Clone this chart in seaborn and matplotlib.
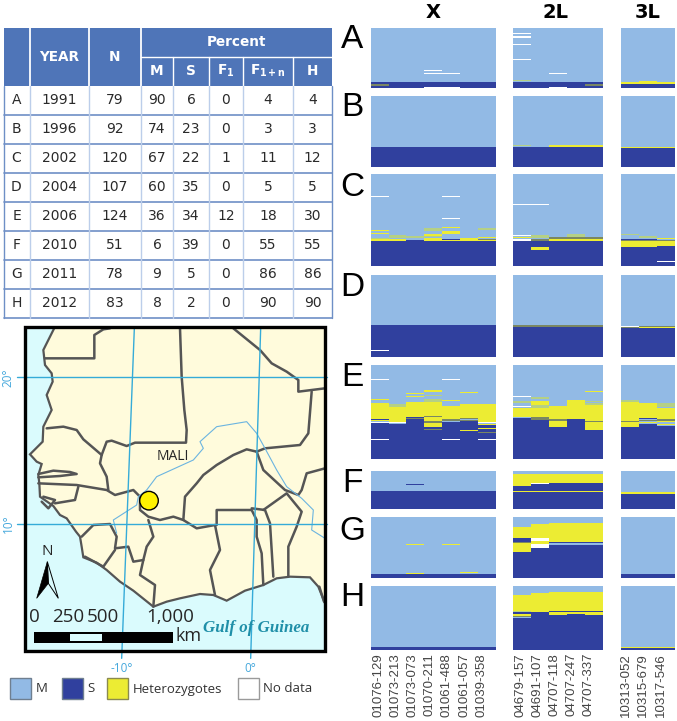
"""Hybrid zone figure: sample table, map of Mali site, genotype panels per year."""

import matplotlib
matplotlib.use("Agg")
import matplotlib.pyplot as plt
import numpy as np
import seaborn as sns
from matplotlib.colors import ListedColormap
from matplotlib.patches import Circle, Polygon, Rectangle

# ── Table ─────────────────────────────────────────────────────────────────────
ROW_NAMES = ["A", "B", "C", "D", "E", "F", "G", "H"]
YEARS = [1991, 1996, 2002, 2004, 2006, 2010, 2011, 2012]
N_SAMPLES = [79, 92, 120, 107, 124, 51, 78, 83]
PCT_M = [90, 74, 67, 60, 36, 6, 9, 8]
PCT_S = [6, 23, 22, 35, 34, 39, 5, 2]
PCT_F1 = [0, 0, 1, 0, 12, 0, 0, 0]
PCT_F1N = [4, 3, 11, 5, 18, 55, 86, 90]
PCT_H = [4, 3, 12, 5, 30, 55, 86, 90]

# ── Marker names ──────────────────────────────────────────────────────────────
LABELS_X = ["01076-129", "01073-213", "01073-073", "01070-211", "01061-488", "01061-057", "01039-358"]
LABELS_2L = ["04679-157", "04691-107", "04707-118", "04707-247", "04707-337"]
LABELS_3L = ["10313-052", "10315-679", "10317-546"]

# ── Genotype panels: first S row per column + (column, row, n_rows, code) runs ─
# M, S, H = homozygotes/heterozygote, N = no data, a/b/c/e = thin faded rows
A_X_S = [71] * 7
A_X_RUNS = [(0, 10, 1, "N"), (4, 10, 1, "N"), (3, 55, 1, "N"), (3, 59, 1, "N"), (4, 59, 1, "N"),
            (0, 74, 2, "c"), (3, 77, 2, "N"), (4, 77, 2, "N")]
A_2L_S = [71] * 5
A_2L_RUNS = [(0, 7, 1, "N"), (0, 11, 2, "N"), (0, 21, 1, "N"), (0, 31, 1, "a"), (0, 41, 1, "N"),
             (2, 59, 1, "N"), (0, 68, 1, "b"), (0, 69, 1, "H"), (4, 74, 2, "c"), (2, 77, 2, "N")]
A_3L_S = [74] * 3
A_3L_RUNS = [(0, 71, 2, "H"), (1, 70, 3, "H"), (2, 71, 2, "H"), (0, 73, 1, "c"), (1, 73, 1, "c"), (2, 73, 1, "c")]

B_X_S = [66] * 7
B_X_RUNS = [(4, 16, 1, "N")]
B_2L_S = [66] * 5
B_2L_RUNS = [(0, 63, 2, "b"), (2, 64, 2, "H"), (3, 64, 2, "H"), (4, 64, 2, "H")]
B_3L_S = [67] * 3
B_3L_RUNS = [(1, 16, 1, "N"), (0, 66, 1, "H"), (1, 66, 1, "H"), (2, 66, 1, "H")]

C_X_S = [87, 87, 86, 88, 88, 88, 88]
C_X_RUNS = [(0, 29, 1, "N"), (0, 73, 1, "H"), (0, 77, 1, "H"), (0, 84, 1, "b"), (0, 85, 2, "H"),
            (1, 80, 3, "b"), (1, 85, 2, "H"), (2, 81, 3, "b"),
            (3, 70, 4, "b"), (3, 79, 2, "H"), (3, 81, 1, "b"), (3, 84, 4, "H"),
            (4, 20, 1, "N"), (4, 24, 1, "N"), (4, 29, 1, "N"), (4, 45, 1, "N"), (4, 58, 1, "N"), (4, 62, 1, "N"),
            (4, 69, 1, "H"), (4, 75, 3, "H"), (4, 85, 1, "S"), (4, 86, 2, "H"),
            (5, 84, 4, "H"), (6, 71, 2, "b"), (6, 82, 1, "H"), (6, 85, 1, "c"), (6, 86, 2, "H")]
C_2L_S = [88] * 5
C_2L_RUNS = [(0, 39, 1, "N"), (1, 39, 1, "N"), (0, 80, 1, "N"), (0, 82, 1, "H"), (0, 85, 3, "N"),
             (1, 80, 4, "b"), (1, 85, 3, "c"), (1, 95, 4, "H"), (2, 82, 3, "c"), (2, 85, 3, "H"),
             (3, 78, 4, "b"), (3, 82, 3, "c"), (3, 85, 3, "H"), (4, 82, 3, "c"), (4, 85, 3, "H")]
C_3L_S = [96, 96, 94]
C_3L_RUNS = [(0, 78, 2, "b"), (0, 85, 1, "S"), (0, 86, 1, "c"), (0, 87, 9, "H"),
             (1, 81, 2, "b"), (1, 85, 1, "S"), (1, 86, 1, "c"), (1, 87, 9, "H"),
             (2, 78, 1, "H"), (2, 84, 1, "H"), (2, 86, 2, "c"), (2, 88, 6, "H"), (2, 114, 1, "N")]

D_X_S = [66] * 7
D_X_RUNS = [(0, 98, 1, "N")]
D_2L_S = [68] * 5
D_2L_RUNS = [(0, 66, 2, "c"), (1, 66, 2, "c"), (2, 65, 1, "H"), (3, 65, 1, "H"), (4, 65, 1, "H"),
             (2, 66, 2, "c"), (3, 66, 2, "c"), (4, 66, 2, "c")]
D_3L_S = [70] * 3
D_3L_RUNS = [(0, 67, 1, "N"), (0, 68, 2, "c"), (1, 67, 1, "c"), (1, 68, 2, "H"), (2, 67, 1, "c"), (2, 68, 2, "H")]

E_X_S = [76, 77, 71, 86, 75, 74, 77]
E_X_RUNS = [(0, 19, 1, "N"), (0, 45, 1, "H"), (0, 50, 21, "H"), (0, 71, 1, "S"), (0, 72, 1, "H"), (0, 73, 1, "S"),
            (0, 75, 1, "N"), (0, 97, 1, "N"),
            (1, 51, 4, "b"), (1, 55, 20, "H"), (1, 75, 1, "N"), (1, 89, 1, "H"),
            (2, 37, 1, "H"), (2, 41, 1, "H"), (2, 49, 20, "H"), (2, 69, 1, "S"), (2, 70, 1, "c"),
            (3, 33, 3, "H"), (3, 39, 2, "b"), (3, 45, 3, "b"), (3, 48, 19, "H"), (3, 67, 2, "c"), (3, 69, 5, "H"),
            (3, 74, 2, "c"), (3, 76, 6, "H"), (3, 82, 2, "S"), (3, 84, 2, "c"),
            (4, 19, 1, "N"), (4, 39, 1, "H"), (4, 46, 1, "H"), (4, 54, 17, "H"), (4, 71, 2, "c"), (4, 97, 1, "N"),
            (5, 36, 1, "H"), (5, 43, 1, "H"), (5, 51, 19, "H"), (5, 70, 1, "c"), (5, 72, 1, "c"), (5, 86, 1, "H"),
            (6, 51, 24, "H"), (6, 75, 1, "N"), (6, 78, 1, "H"), (6, 83, 1, "H"), (6, 88, 2, "c"), (6, 97, 1, "N")]
E_2L_S = [70, 72, 82, 71, 85]
E_2L_RUNS = [(0, 41, 1, "N"), (0, 43, 1, "S"), (0, 47, 3, "b"), (0, 52, 1, "N"), (0, 54, 1, "N"), (0, 56, 12, "H"),
             (0, 68, 1, "S"), (0, 73, 1, "N"),
             (1, 42, 3, "b"), (1, 47, 6, "H"), (1, 53, 4, "b"), (1, 57, 12, "H"), (1, 69, 3, "c"),
             (2, 48, 1, "H"), (2, 52, 1, "H"), (2, 54, 17, "H"), (2, 71, 2, "c"), (2, 73, 9, "H"),
             (3, 43, 1, "H"), (3, 46, 25, "H"),
             (4, 34, 1, "H"), (4, 47, 2, "b"), (4, 50, 2, "b"), (4, 53, 20, "H"), (4, 73, 2, "c"), (4, 75, 9, "H"),
             (4, 84, 1, "H")]
E_3L_S = [81, 78, 80]
E_3L_RUNS = [(0, 46, 2, "b"), (0, 49, 24, "H"), (0, 73, 2, "c"), (0, 75, 6, "H"),
             (1, 50, 20, "H"), (1, 70, 1, "S"), (1, 72, 2, "c"), (1, 75, 1, "H"),
             (2, 50, 2, "b"), (2, 53, 2, "b"), (2, 57, 1, "H"), (2, 58, 13, "H"), (2, 71, 2, "c"), (2, 74, 1, "H"),
             (2, 78, 1, "H")]

F_X_S = [27] * 7
F_X_RUNS = [(2, 18, 1, "S")]
F_2L_S = [20, 18, 17, 17, 17]
F_2L_RUNS = [(0, 5, 15, "H"), (1, 5, 12, "H"), (1, 17, 1, "N"), (2, 5, 12, "H"), (3, 5, 12, "H"), (4, 5, 12, "H"),
             (0, 27, 1, "H"), (1, 27, 1, "H"), (2, 27, 1, "H"), (3, 27, 1, "H"), (4, 27, 1, "H")]
F_3L_S = [31] * 3
F_3L_RUNS = [(0, 28, 1, "b"), (0, 29, 2, "H"), (1, 28, 1, "b"), (1, 29, 2, "H"), (2, 28, 1, "b"), (2, 29, 2, "H")]

G_X_S = [73] * 7
G_X_RUNS = [(2, 35, 1, "H"), (4, 35, 1, "H"), (2, 72, 1, "H"), (5, 71, 1, "H")]
G_2L_S = [45, 40, 36, 36, 36]
G_2L_RUNS = [(0, 12, 15, "H"), (0, 27, 5, "S"), (0, 32, 1, "c"), (0, 33, 12, "H"),
             (1, 9, 18, "H"), (1, 27, 3, "N"), (1, 30, 4, "H"), (1, 34, 1, "c"), (1, 35, 5, "N"),
             (2, 7, 25, "H"), (2, 32, 1, "S"), (2, 34, 1, "H"),
             (3, 7, 25, "H"), (3, 32, 1, "S"), (3, 34, 1, "H"),
             (4, 7, 25, "H"), (4, 32, 1, "S"), (4, 34, 1, "H")]
G_3L_S = [73] * 3
G_3L_RUNS = []

H_X_S = [80] * 7
H_X_RUNS = []
H_2L_S = [41, 34, 37, 36, 37]
H_2L_RUNS = [(0, 11, 21, "H"), (0, 32, 1, "b"), (0, 33, 3, "S"), (0, 36, 3, "H"), (0, 39, 1, "c"),
             (1, 9, 25, "H"),
             (2, 8, 24, "H"), (2, 32, 1, "S"), (2, 33, 1, "c"), (2, 34, 3, "H"),
             (3, 7, 25, "H"), (3, 32, 2, "S"), (3, 34, 2, "H"),
             (4, 7, 25, "H"), (4, 32, 1, "S"), (4, 33, 4, "H")]
H_3L_S = [81] * 3
H_3L_RUNS = [(0, 80, 1, "H"), (1, 80, 1, "H"), (2, 80, 1, "H")]

# ── Map outlines (traced, in crop units: 3 units = 1 px, origin at 0,320) ──────
COAST = [(170, 10), (150, 50), (130, 90), (135, 135), (155, 160), (158, 185), (140, 225), (155, 270), (140, 300),
         (130, 320), (128, 365), (90, 403), (110, 425), (125, 432), (115, 465), (118, 490), (120, 530), (160, 558),
         (180, 585), (200, 595), (228, 635), (240, 650), (245, 680), (250, 712), (290, 728), (320, 750), (360, 785),
         (400, 812), (460, 860), (500, 845), (540, 835), (600, 822), (640, 825), (680, 842), (735, 812), (790, 795),
         (830, 775), (870, 770), (930, 772), (955, 800), (975, 850), (1000, 850), (1000, 10)]
BORDERS = [
    [(135, 115), (283, 115), (283, 45), (310, 28), (330, 25)],
    [(540, 25), (545, 170), (553, 270), (560, 330), (558, 368), (480, 368), (405, 368), (380, 378), (335, 362),
     (320, 365), (305, 405)],
    [(140, 325), (190, 320), (230, 330), (250, 358), (270, 375), (305, 405), (300, 430), (320, 470), (325, 510)],
    [(700, 25), (780, 90), (815, 130), (860, 155), (895, 180), (895, 215), (975, 205)],
    [(935, 215), (925, 340), (900, 375), (795, 385), (770, 395), (740, 388), (700, 405), (650, 435), (610, 465),
     (590, 490), (555, 530), (550, 600)],
    [(115, 490), (230, 495), (320, 510), (345, 525), (400, 510), (420, 530), (420, 570), (445, 590), (480, 600),
     (520, 590), (550, 600), (590, 625), (645, 615), (660, 690), (630, 750), (645, 825)],
    [(235, 500), (225, 540), (165, 550)],
    [(245, 650), (280, 615), (330, 612), (350, 650), (345, 685), (385, 680), (400, 725), (430, 720), (440, 680),
     (460, 650), (445, 600)],
    [(255, 710), (310, 740), (345, 690)],
    [(430, 720), (420, 765), (465, 795), (460, 860)],
    [(650, 615), (650, 570), (755, 570), (770, 600), (770, 650), (785, 700), (790, 795)],
    [(755, 565), (795, 570), (810, 610), (820, 770)],
    [(790, 570), (860, 520), (905, 575), (890, 620), (865, 680), (865, 770)],
    [(770, 395), (790, 450), (855, 510), (895, 525), (905, 510), (920, 460), (975, 445)],
    [(115, 462), (160, 452), (210, 456), (230, 462), (180, 468), (115, 472)],
    [(130, 530), (165, 540), (145, 565), (125, 545)],
    [(958, 800), (972, 845)],
]
RIVERS = [
    [(350, 640), (340, 600), (410, 555), (415, 530), (440, 510), (470, 470), (580, 420), (610, 385), (600, 365),
     (650, 320), (740, 305), (770, 340), (795, 385), (830, 450), (860, 500), (905, 535), (940, 570), (935, 630),
     (975, 655)],
]

GENO_CODES = "MSHNabce"
GENO_COLORS = ["#92BAE5", "#30409E", "#ECEC33", "#FFFFFF", "#CFE0F2", "#B5D085", "#7A8763", "#8090C8"]

FIG_W, FIG_H = 677, 721
sns.set_style("white")
plt.rcParams["font.family"] = "DejaVu Sans"


def zx(v):
    return v / 3


def zy(v):
    return 320 + v / 3


def genotype_matrix(n_rows, s_start, runs):
    """Rows are samples, columns are markers; M on top, S below, runs on top of that."""
    mat = np.zeros((n_rows, len(s_start)), dtype=int)
    for col, start in enumerate(s_start):
        mat[start:, col] = GENO_CODES.index("S")
    for col, row, count, code in runs:
        mat[row:row + count, col] = GENO_CODES.index(code)
    return mat


fig = plt.figure(figsize=(FIG_W / 100, FIG_H / 100), dpi=100)
over = fig.add_axes([0, 0, 1, 1])
over.set_xlim(0, FIG_W)
over.set_ylim(FIG_H, 0)
over.axis("off")

# ── Table ─────────────────────────────────────────────────────────────────────
HEAD = "#4F75B8"
LINE = "#6E8FC6"
PALE = "#BCCEEA"
col_x = [3.5, 29.5, 89, 141, 173, 209, 243, 293, 332]
head_top, head_mid, head_bot = 27.5, 56.5, 85.7
row_h = 29

over.add_patch(Rectangle((col_x[0], head_top), col_x[-1] - col_x[0], head_bot - head_top, fc=HEAD, ec="none"))
for x in col_x[1:4]:
    over.plot([x, x], [head_top, head_bot], color="white", lw=1.3)
for x in col_x[4:-1]:
    over.plot([x, x], [head_mid, head_bot], color="white", lw=1.0)
over.plot([col_x[3], col_x[-1]], [head_mid, head_mid], color="white", lw=1.0)

for i in range(1, 9):
    y = head_bot + i * row_h
    over.plot([col_x[0], col_x[-1]], [y, y], color=LINE, lw=1.2)
for x in col_x[1:-1]:
    over.plot([x, x], [head_bot, head_bot + 8 * row_h], color=PALE, lw=1.0)
for x in (col_x[0], col_x[-1]):
    over.plot([x, x], [head_bot, head_bot + 8 * row_h], color=LINE, lw=1.0)


def centre(i):
    return (col_x[i] + col_x[i + 1]) / 2


head_style = dict(color="white", fontweight="bold", fontsize=9.8, ha="center", va="center")
over.text(centre(1), (head_top + head_bot) / 2, "YEAR", **head_style)
over.text(centre(2), (head_top + head_bot) / 2, "N", **head_style)
over.text((col_x[3] + col_x[-1]) / 2, (head_top + head_mid) / 2 - 0.5, "Percent", **head_style)
for i, lab in zip(range(3, 8), ["M", "S", "F$\\mathbf{_1}$", "F$\\mathbf{_{1+n}}$", "H"]):
    over.text(centre(i), (head_mid + head_bot) / 2, lab, **head_style)

for r in range(8):
    y = head_bot + (r + 0.5) * row_h
    cells = [ROW_NAMES[r], YEARS[r], N_SAMPLES[r], PCT_M[r], PCT_S[r], PCT_F1[r], PCT_F1N[r], PCT_H[r]]
    for i, val in enumerate(cells):
        over.text(centre(i), y, str(val), ha="center", va="center", fontsize=10, color="#2A2A2A")

# ── Map ───────────────────────────────────────────────────────────────────────
frame = (zx(75), zy(22), zx(975) - zx(75), zy(992) - zy(22))
clip = Rectangle(frame[:2], frame[2], frame[3], transform=over.transData)
over.add_patch(Rectangle(frame[:2], frame[2], frame[3], fc="#DAFBFD", ec="none"))
land = Polygon([(zx(x), zy(y)) for x, y in COAST], fc="#FFFBDC", ec="#555555", lw=1.6, zorder=2)
over.add_patch(land)
land.set_clip_path(clip)
for line in BORDERS:
    xs, ys = zip(*line)
    over.plot(zx(np.array(xs)), zy(np.array(ys)), color="#555555", lw=1.8, zorder=3, clip_path=clip,
              solid_joinstyle="round")
for line in RIVERS:
    xs, ys = zip(*line)
    over.plot(zx(np.array(xs)), zy(np.array(ys)), color="#6BB4E0", lw=0.8, zorder=3, clip_path=clip)

GRID = "#35ABD8"
over.plot([zx(50), zx(980)], [zy(172), zy(172)], color=GRID, lw=1.0, zorder=4)
over.plot([zx(50), zx(980)], [zy(612), zy(612)], color=GRID, lw=1.0, zorder=4)
over.plot([zx(403), zx(365)], [zy(25), zy(1015)], color=GRID, lw=1.0, zorder=4)
over.plot([zx(782), zx(752)], [zy(25), zy(1015)], color=GRID, lw=1.0, zorder=4)

tick_style = dict(color="#45A8DC", fontsize=8.5, family="Open Sans", ha="center", va="center")
over.text(zx(25), zy(172), "20°", rotation=90, **tick_style)
over.text(zx(25), zy(612), "10°", rotation=90, **tick_style)
over.text(zx(365), zy(1047), "-10°", **tick_style)
over.text(zx(750), zy(1047), "0°", **tick_style)

over.add_patch(Circle((zx(447), zy(542)), 9.3, fc="#FFF200", ec="black", lw=1.0, zorder=5))
over.text(zx(517), zy(408), "MALI", fontsize=10, family="Open Sans", ha="center", va="center", zorder=5)

# north arrow
over.text(zx(143), zy(695), "N", fontsize=11, family="Open Sans", ha="center", va="center", zorder=5)
over.add_patch(Polygon([(zx(142), zy(725)), (zx(110), zy(835)), (zx(145), zy(790))], fc="black", ec="black",
                       lw=0.5, zorder=5))
over.add_patch(Polygon([(zx(142), zy(725)), (zx(175), zy(835)), (zx(145), zy(790))], fc="none", ec="black",
                       lw=0.7, zorder=5))

# scale bar
for x, lab in zip([102, 205, 308, 512], ["0", "250", "500", "1,000"]):
    over.text(zx(x), zy(890), lab, fontsize=13.5, family="Open Sans", ha="center", va="center", zorder=5)
over.add_patch(Rectangle((zx(102), zy(935)), zx(416), 11, fc="black", ec="none", zorder=5))
over.add_patch(Rectangle((zx(210), zy(941)), zx(95), 7, fc="#DAFBFD", ec="none", zorder=6))
over.text(zx(567), zy(948), "km", fontsize=13, family="Open Sans", ha="center", va="center", zorder=5)
over.text(zx(770), zy(925), "Gulf of Guinea", fontsize=12.2, family="Liberation Serif", fontweight="bold",
          fontstyle="italic", color="#1F8FA8", ha="center", va="center", zorder=5)
over.add_patch(Rectangle(frame[:2], frame[2], frame[3], fc="none", ec="black", lw=2.4, zorder=7))

# legend
legend_items = [(30, "#92BAE5", "M", "#6F7F90"), (186, "#30409E", "S", "#6F7F90"),
                (322, "#ECEC33", "Heterozygotes", "#8A8A50"), (714, "#FFFFFF", "No data", "#9A9A9A")]
for x, color, lab, edge in legend_items:
    over.add_patch(Rectangle((zx(x), zy(1075)), 62 / 3, 62 / 3, fc=color, ec=edge, lw=1.0))
    over.text(zx(x + 76), zy(1107), lab, fontsize=9.5, family="Open Sans", color="#333333", ha="left", va="center")

# ── Genotype panels ───────────────────────────────────────────────────────────
cmap = ListedColormap(GENO_COLORS)
panel_cols = [(370.7, 125.0), (513.3, 89.7), (621.0, 54.0)]
panel_rows = [(28.0, 60.3), (96.3, 70.4), (174.3, 91.4), (275.0, 81.7), (365.0, 94.3), (470.7, 38.3),
              (517.3, 60.4), (586.3, 63.4)]
panels = [
    [(A_X_S, A_X_RUNS), (A_2L_S, A_2L_RUNS), (A_3L_S, A_3L_RUNS)],
    [(B_X_S, B_X_RUNS), (B_2L_S, B_2L_RUNS), (B_3L_S, B_3L_RUNS)],
    [(C_X_S, C_X_RUNS), (C_2L_S, C_2L_RUNS), (C_3L_S, C_3L_RUNS)],
    [(D_X_S, D_X_RUNS), (D_2L_S, D_2L_RUNS), (D_3L_S, D_3L_RUNS)],
    [(E_X_S, E_X_RUNS), (E_2L_S, E_2L_RUNS), (E_3L_S, E_3L_RUNS)],
    [(F_X_S, F_X_RUNS), (F_2L_S, F_2L_RUNS), (F_3L_S, F_3L_RUNS)],
    [(G_X_S, G_X_RUNS), (G_2L_S, G_2L_RUNS), (G_3L_S, G_3L_RUNS)],
    [(H_X_S, H_X_RUNS), (H_2L_S, H_2L_RUNS), (H_3L_S, H_3L_RUNS)],
]

for r, (top, height) in enumerate(panel_rows):
    for c, (left, width) in enumerate(panel_cols):
        s_start, runs = panels[r][c]
        ax = fig.add_axes([left / FIG_W, 1 - (top + height) / FIG_H, width / FIG_W, height / FIG_H])
        # antialiased so one-sample rows (<1 px tall) fade instead of vanishing
        sns.heatmap(genotype_matrix(N_SAMPLES[r], s_start, runs), cmap=cmap, vmin=-0.5, vmax=7.5, cbar=False,
                    xticklabels=False, yticklabels=False, ax=ax, antialiased=True)

# column titles, row letters, marker names
for x, lab in zip([433, 556, 648], ["X", "2L", "3L"]):
    over.text(x, 12, lab, fontsize=14, fontweight="bold", color="black", ha="center", va="center")
letter_y = [40, 108, 188, 287, 377, 483, 532, 598]
for y, lab in zip(letter_y, ROW_NAMES):
    over.text(352, y, lab, fontsize=24, family="Liberation Sans", color="black", ha="center", va="center")

for start, labels in [(378, LABELS_X), (520, LABELS_2L), (626, LABELS_3L)]:
    for i, lab in enumerate(labels):
        over.text(start + i * 17.25, 653, lab, rotation=90, fontsize=9.5, family="Liberation Sans",
                  color="#444444", ha="center", va="top")

fig.savefig("out.png", dpi=100)
plt.close(fig)
